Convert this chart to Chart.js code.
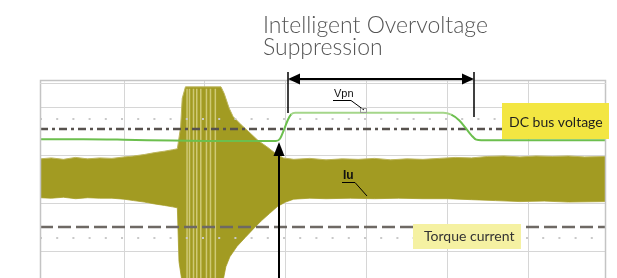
<!DOCTYPE html>
<html>
<head>
<meta charset="utf-8">
<script src="https://cdn.jsdelivr.net/npm/chart.js@4/dist/chart.umd.min.js"></script>
<style>
html,body{margin:0;padding:0;background:#fff;}
#wrap{width:617px;height:278px;position:relative;}
</style>
</head>
<body>
<div id="wrap"><canvas id="c" width="617" height="278"></canvas></div>
<script>
// ---- data (x in time divisions, y in vertical divisions) ----
const xRange = [-0.04, 6.965];
const yRange = [-1.542, 2.583];
const xGridTicks = [1, 2, 3, 4, 5, 6];
const yGridTicks = [-1, 0, 1, 2];

const vpnX = [-0.04, 0.5, 1.0, 1.6, 2.2, 2.75, 2.88, 2.93, 2.98, 3.03, 3.07, 3.12, 4.0, 4.95, 5.05, 5.15, 5.23, 5.30, 5.36, 5.42, 6.0, 6.965];
const vpnY = [1.35, 1.35, 1.34, 1.32, 1.31, 1.31, 1.31, 1.36, 1.55, 1.76, 1.87, 1.90, 1.90, 1.90, 1.86, 1.74, 1.58, 1.43, 1.34, 1.33, 1.33, 1.33];

const iuUpperX = [-0.04, 0.10, 0.25, 0.40, 0.55, 0.70, 0.85, 1.00, 1.12, 1.25, 1.38, 1.50, 1.60, 1.66, 1.70, 1.72, 1.76, 2.20, 2.24, 2.30, 2.35, 2.45, 2.56, 2.66, 2.77, 2.87, 2.97, 3.10, 3.30, 3.50, 3.70, 3.90, 4.10, 4.30, 4.50, 4.70, 4.90, 5.10, 5.30, 5.50, 5.70, 5.90, 6.10, 6.30, 6.50, 6.70, 6.965];
const iuUpperY = [0.94, 0.96, 0.93, 0.97, 0.94, 0.96, 0.95, 0.98, 1.00, 1.03, 1.07, 1.10, 1.13, 1.15, 1.60, 2.20, 2.44, 2.44, 2.30, 2.00, 1.82, 1.65, 1.48, 1.32, 1.19, 1.06, 0.96, 0.93, 0.95, 0.92, 0.94, 0.93, 0.95, 0.92, 0.94, 0.93, 0.95, 0.97, 0.96, 0.99, 1.00, 0.98, 1.00, 0.99, 1.00, 0.98, 0.99];

const iuLowerX = [-0.04, 0.10, 0.25, 0.40, 0.55, 0.70, 0.85, 1.00, 1.12, 1.25, 1.38, 1.50, 1.60, 1.66, 1.68, 1.72, 2.22, 2.26, 2.31, 2.40, 2.50, 2.60, 2.70, 2.80, 2.90, 3.00, 3.10, 3.30, 3.50, 3.80, 4.10, 4.40, 4.70, 5.00, 5.30, 5.60, 5.90, 6.20, 6.50, 6.965];
const iuLowerY = [0.13, 0.12, 0.14, 0.11, 0.13, 0.12, 0.12, 0.10, 0.07, 0.04, 0.00, -0.03, -0.06, -0.08, -1.20, -1.65, -1.65, -1.31, -1.10, -0.88, -0.70, -0.52, -0.35, -0.20, -0.05, 0.04, 0.10, 0.12, 0.11, 0.12, 0.11, 0.12, 0.11, 0.11, 0.09, 0.07, 0.05, 0.06, 0.04, 0.05];

const burstStripeX = [1.78, 1.81, 1.86, 1.90, 1.95, 2.02, 2.07, 2.13];
const burstTop = 2.40;
const burstBottom = -1.65;

const dcBusLevel = 1.56;
const torqueLevel = -0.48;
const tickRowLevels = [1.77, -0.71];

// ---- build datasets ----
const pts = (xs, ys) => xs.map((x, i) => ({x: x, y: ys[i]}));
const hline = (v) => [{x: xRange[0], y: v}, {x: xRange[1], y: v}];
const stripes = [];
burstStripeX.forEach(x => { stripes.push({x: x, y: burstTop}); stripes.push({x: x, y: burstBottom}); stripes.push({x: x + 0.001, y: null}); });

const datasets = [
  {label: 'Vpn', data: pts(vpnX, vpnY), borderColor: '#6cbf4e', borderWidth: 2, pointRadius: 0,
   cubicInterpolationMode: 'monotone', order: 0,
   segment: {borderColor: c => (c.p0.parsed.y > 1.8 && c.p1.parsed.y > 1.8) ? '#a5d68a' : '#6cbf4e'}},
  {label: 'DC bus voltage', data: hline(dcBusLevel), borderColor: '#57524e', borderWidth: 2.5, borderDash: [8, 4, 3, 4], pointRadius: 0, order: 1},
  {label: 'Torque current', data: hline(torqueLevel), borderColor: '#6e6964', borderWidth: 2.5, borderDash: [13, 5], pointRadius: 0, order: 1},
  {label: 'tick row 1', data: hline(tickRowLevels[0]), borderColor: '#c9c9c9', borderWidth: 2, borderDash: [2, 14.2], pointRadius: 0, order: 2},
  {label: 'tick row 2', data: hline(tickRowLevels[1]), borderColor: '#c9c9c9', borderWidth: 2, borderDash: [2, 14.2], pointRadius: 0, order: 2},
  {label: 'burst', data: stripes, borderColor: 'rgba(236,232,172,0.6)', borderWidth: 1.5, pointRadius: 0, spanGaps: false, order: 3},
  {label: 'Iu upper', data: pts(iuUpperX, iuUpperY), borderColor: '#bdb65e', borderWidth: 1, pointRadius: 0,
   fill: {target: 7}, backgroundColor: '#a29b22', order: 4},
  {label: 'Iu lower', data: pts(iuLowerX, iuLowerY), borderColor: '#bdb65e', borderWidth: 1, pointRadius: 0, order: 5}
];

const annot = {
  id: 'annot',
  beforeDraw(chart) {
    const ctx = chart.ctx;
    ctx.save();
    ctx.fillStyle = '#fff';
    ctx.fillRect(0, 0, chart.width, chart.height);
    ctx.restore();
  },
  afterDatasetsDraw(chart) {
    const ctx = chart.ctx, a = chart.chartArea;
    const xs = chart.scales.x;
    ctx.save();
    // frame
    ctx.strokeStyle = '#c4c4c4';
    ctx.lineWidth = 1.5;
    ctx.strokeRect(a.left + 0.5, a.top + 0.5, a.right - a.left - 1, a.bottom - a.top + 4);
    ctx.beginPath(); ctx.moveTo(a.left, a.top + 3.5); ctx.lineTo(a.right, a.top + 3.5); ctx.lineWidth = 1; ctx.strokeStyle = '#d6d6d6'; ctx.stroke();

    // title
    ctx.fillStyle = '#555';
    ctx.font = '300 23px Lato';
    ctx.textBaseline = 'alphabetic';
    ctx.fillText('Intelligent Overvoltage', 263, 33);
    ctx.fillText('Suppression', 263, 55);

    // horizontal double arrow
    const xa = Math.round(xs.getPixelForValue(3.03)), xb = Math.round(xs.getPixelForValue(5.33));
    const ya = 79;
    ctx.strokeStyle = '#000'; ctx.fillStyle = '#000';
    ctx.lineWidth = 2;
    ctx.beginPath(); ctx.moveTo(xa + 8, ya); ctx.lineTo(xb - 8, ya); ctx.stroke();
    ctx.beginPath(); ctx.moveTo(xa, ya); ctx.lineTo(xa + 12, ya - 5.5); ctx.lineTo(xa + 12, ya + 5.5); ctx.closePath(); ctx.fill();
    ctx.beginPath(); ctx.moveTo(xb, ya); ctx.lineTo(xb - 12, ya - 5.5); ctx.lineTo(xb - 12, ya + 5.5); ctx.closePath(); ctx.fill();
    ctx.lineWidth = 1.5;
    ctx.beginPath(); ctx.moveTo(xa, 72); ctx.lineTo(xa, 113); ctx.stroke();
    ctx.beginPath(); ctx.moveTo(xb, 72); ctx.lineTo(xb, 117); ctx.stroke();

    // vertical arrow
    const xv = Math.round(xs.getPixelForValue(2.92));
    ctx.lineWidth = 2;
    ctx.beginPath(); ctx.moveTo(xv, chart.height); ctx.lineTo(xv, 152); ctx.stroke();
    ctx.beginPath(); ctx.moveTo(xv, 142); ctx.lineTo(xv - 5.5, 156); ctx.lineTo(xv + 5.5, 156); ctx.closePath(); ctx.fill();

    // Vpn label
    ctx.font = '11px "Liberation Sans"';
    ctx.fillStyle = '#111';
    ctx.fillText('Vpn', 334, 97);
    ctx.lineWidth = 1;
    ctx.beginPath(); ctx.moveTo(333, 100.5); ctx.lineTo(351, 100.5); ctx.lineTo(364, 110); ctx.stroke();
    ctx.strokeStyle = '#999';
    ctx.strokeRect(360.5, 108.5, 6, 4);

    // Iu label
    ctx.strokeStyle = '#000';
    ctx.font = 'bold 12px "Liberation Sans"';
    ctx.fillStyle = '#111';
    ctx.fillText('Iu', 343, 179);
    ctx.beginPath(); ctx.moveTo(342, 182.5); ctx.lineTo(355, 182.5); ctx.lineTo(367, 196); ctx.stroke();

    // DC bus voltage box
    ctx.fillStyle = '#f3e642';
    ctx.fillRect(502, 103, 107, 36);
    ctx.fillStyle = '#1e1e1e';
    ctx.font = '14px Lato';
    ctx.fillText('DC bus voltage', 509, 127);

    // Torque current box
    ctx.fillStyle = '#f5f1a2';
    ctx.fillRect(413, 224, 108, 25);
    ctx.fillStyle = '#333';
    ctx.font = '14px Lato';
    ctx.fillText('Torque current', 424, 241);
    ctx.restore();
  }
};

new Chart(document.getElementById('c'), {
  type: 'line',
  data: {datasets: datasets},
  plugins: [annot],
  options: {
    responsive: false,
    devicePixelRatio: 1,
    animation: false,
    layout: {padding: {left: 40, top: 80, right: 11, bottom: 0}},
    plugins: {legend: {display: false}, tooltip: {enabled: false}, title: {display: false}},
    elements: {line: {tension: 0}},
    scales: {
      x: {type: 'linear', min: xRange[0], max: xRange[1],
          afterBuildTicks: s => { s.ticks = xGridTicks.map(v => ({value: v})); },
          afterFit: s => { s.height = 0; },
          ticks: {display: false}, border: {display: false},
          grid: {color: '#d6d6d6', lineWidth: 1, drawTicks: false}},
      y: {type: 'linear', min: yRange[0], max: yRange[1],
          afterBuildTicks: s => { s.ticks = yGridTicks.map(v => ({value: v})); },
          afterFit: s => { s.width = 0; },
          ticks: {display: false}, border: {display: false},
          grid: {color: '#d6d6d6', lineWidth: 1, drawTicks: false}}
    }
  }
});
</script>
</body>
</html>
